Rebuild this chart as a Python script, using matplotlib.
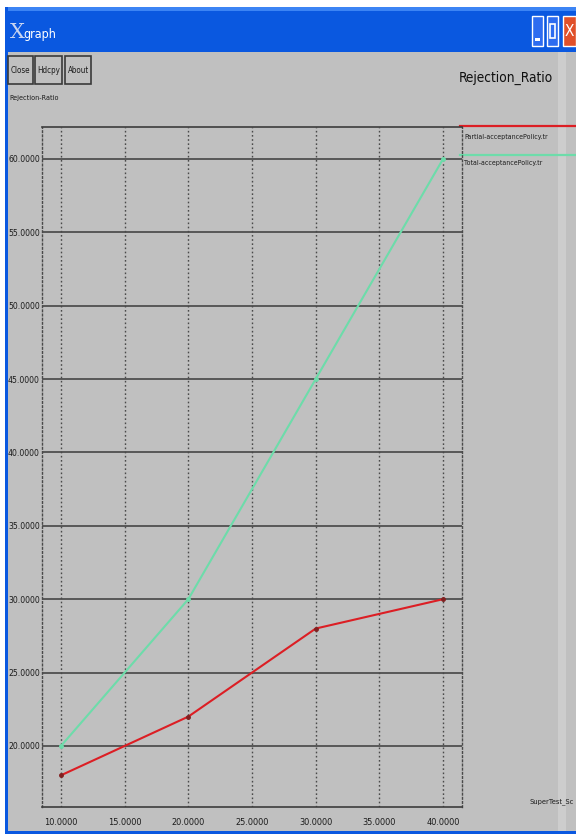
import matplotlib
matplotlib.use("Agg")
import matplotlib.pyplot as plt
from matplotlib import font_manager as fm
from matplotlib.patches import Rectangle
from matplotlib.lines import Line2D

# Data
x_values = [10, 20, 30, 40]
partial_acceptance = [18, 22, 28, 30]
total_acceptance = [20, 30, 45, 60]
series_names = ["Partial-acceptancePolicy.tr", "Total-acceptancePolicy.tr"]
x_ticks = [10, 15, 20, 25, 30, 35, 40]
y_ticks = [20, 25, 30, 35, 40, 45, 50, 55, 60]
chart_title = "Rejection_Ratio"
y_label = "Rejection-Ratio"
x_label = "SuperTest_Sc"


def pick_narrow_font():
    """Return (FontProperties, scale) for the narrowest regular sans face available."""
    regular = [f for f in fm.fontManager.ttflist
               if f.style == "normal" and f.weight in (400, "normal", "regular")
               and isinstance(f.stretch, str) and "condensed" in f.stretch]
    ranks = [("Noto Sans", "ExtraCondensed"), ("Liberation Sans Narrow", ""),
             ("Noto Sans", "Condensed"), ("DejaVu Sans", ""), ("Roboto", ""),
             ("Open Sans", ""), ("", "")]
    for fam, token in ranks:
        for f in regular:
            if fam and f.name != fam:
                continue
            if token and token not in f.fname:
                continue
            if fam == "Noto Sans" and ("Semi" in f.fname or "Display" in f.fname):
                continue
            return fm.FontProperties(fname=f.fname), 1.0
    return fm.FontProperties(family="DejaVu Sans"), 0.8


NARROW, SCALE = pick_narrow_font()
W, H = 576, 834
GRAY = "#c0c0c0"
BLUE = "#0a58e0"
RED = "#dc1e24"
GREEN = "#6ddcaa"
INK = "#1c1c1c"


def ntext(axes, x, y, s, size, **kw):
    return axes.text(x, y, s, fontproperties=NARROW, fontsize=size * SCALE, **kw)


fig = plt.figure(figsize=(W / 100, H / 100), dpi=100)
fig.patch.set_facecolor("white")

# Window frame drawn in pixel coordinates
frame = fig.add_axes([0, 0, 1, 1])
frame.set_xlim(0, W)
frame.set_ylim(H, 0)
frame.axis("off")
frame.add_patch(Rectangle((5, 7), W - 5, H - 7, facecolor=GRAY, edgecolor="none"))
frame.add_patch(Rectangle((5, 7), W - 5, 45, facecolor=BLUE, edgecolor="none"))
frame.add_patch(Rectangle((5, 7), W - 5, 4, facecolor="#3c84f4", edgecolor="none"))
frame.add_patch(Rectangle((5, 7), 3, H - 7, facecolor=BLUE, edgecolor="none"))
frame.add_patch(Rectangle((5, H - 3), W - 5, 3, facecolor=BLUE, edgecolor="none"))
frame.add_patch(Rectangle((558, 52), 8, H - 55, facecolor="#cdcdcd", edgecolor="none"))

# Title bar text and window buttons
frame.text(10, 32, "X", family=["DejaVu Serif"], fontsize=15, color="#c8d4f0",
           va="center", ha="left")
ntext(frame, 23, 34, "graph", 9, color="white", fontweight="bold",
      va="center", ha="left")
frame.add_patch(Rectangle((532, 16), 11, 30, facecolor="#2d6cf0", edgecolor="white", lw=1))
frame.add_patch(Rectangle((547, 16), 11, 30, facecolor="#2d6cf0", edgecolor="white", lw=1))
frame.add_patch(Rectangle((563, 16), 13, 30, facecolor="#e0502a", edgecolor="white", lw=1))
frame.add_patch(Rectangle((535, 38), 5, 2.5, facecolor="white", edgecolor="none"))
frame.add_patch(Rectangle((550, 24), 5, 14, facecolor="none", edgecolor="white", lw=1.2))
ntext(frame, 569.5, 31, "X", 11, color="white", fontweight="bold",
      ha="center", va="center")

for bx, bw, name in [(8, 25, "Close"), (35, 27, "Hdcpy"), (65, 26, "About")]:
    frame.add_patch(Rectangle((bx, 56), bw, 28, facecolor=GRAY, edgecolor="#3a3a3a", lw=1.2))
    ntext(frame, bx + bw / 2, 70, name, 5.8, ha="center", va="center", color=INK)

ntext(frame, 9, 98, y_label, 5.2, ha="left", va="center", color=INK)
ntext(frame, 459, 78, chart_title, 9.8, ha="left", va="center", color="#101010")
ntext(frame, 529, 802, x_label, 5.4, ha="left", va="center", color=INK)

# Legend at the right of the plotting area
for ly, ty, color, name in [(126, 137, RED, series_names[0]),
                            (155, 163, GREEN, series_names[1])]:
    frame.add_line(Line2D([460, W], [ly, ly], color=color, lw=1.6))
    ntext(frame, 464, ty, name, 5.0, ha="left", va="center", color=INK)

# Plotting area
left, right, top, bottom = 42, 462, 127, 807
ax = fig.add_axes([left / W, (H - bottom) / H, (right - left) / W, (bottom - top) / H])
ax.patch.set_visible(False)
ax.set_xlim(8.51, 41.49)
ax.set_ylim(15.84, 62.18)

for yv in y_ticks:
    ax.axhline(yv, color="#3c3c3c", lw=1.1, zorder=1)
for xv in x_ticks:
    ax.axvline(xv, color="#4a4a4a", lw=1.0, ls=(0, (1.2, 1.8)), zorder=1)

for side in ("top", "bottom"):
    ax.spines[side].set_color("#3c3c3c")
    ax.spines[side].set_linewidth(1.2)
for side in ("left", "right"):
    ax.spines[side].set_color("#4a4a4a")
    ax.spines[side].set_linewidth(1.0)
    ax.spines[side].set_linestyle((0, (1.2, 1.8)))

ax.plot(x_values, total_acceptance, color=GREEN, lw=1.5, marker="o", ms=2.5,
        mfc=GREEN, mec=GREEN, zorder=3, clip_on=False)
ax.plot(x_values, partial_acceptance, color=RED, lw=1.5, marker="o", ms=2.5,
        mfc="#802020", mec="#802020", zorder=4, clip_on=False)

ax.set_xticks(x_ticks)
ax.set_xticklabels([f"{v:.4f}" for v in x_ticks], fontproperties=NARROW,
                   fontsize=6.6 * SCALE, color=INK)
ax.set_yticks(y_ticks)
ax.set_yticklabels([f"{v:.4f}" for v in y_ticks], fontproperties=NARROW,
                   fontsize=6.2 * SCALE, color=INK)
ax.tick_params(axis="both", length=0)
ax.tick_params(axis="x", pad=8)
ax.tick_params(axis="y", pad=1.5)

fig.savefig("out.png", dpi=100, facecolor=fig.get_facecolor())
